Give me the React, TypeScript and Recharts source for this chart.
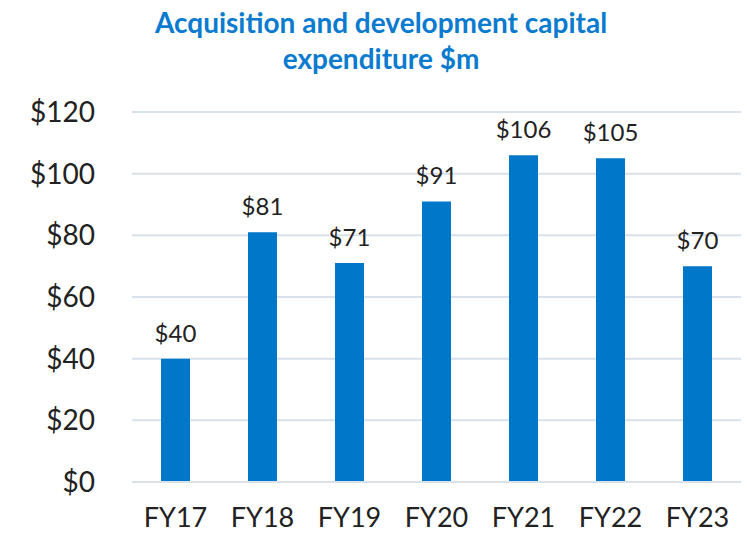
import React from 'react';
import { BarChart, Bar, XAxis, YAxis, CartesianGrid, LabelList } from 'recharts';

const years = ['FY17', 'FY18', 'FY19', 'FY20', 'FY21', 'FY22', 'FY23'];
const capex = [40, 81, 71, 91, 106, 105, 70];
const yTicks = [0, 20, 40, 60, 80, 100, 120];

const data = years.map((year, i) => ({ year, capex: capex[i] }));

const FONT = 'Lato, "Open Sans", sans-serif';

export default function App() {
  return (
    <div style={{ position: 'absolute', left: 0, top: 0, width: 747, height: 534, background: '#fff' }}>
      <svg width={747} height={100} style={{ position: 'absolute', left: 0, top: 0 }}>
        <text x={381} y={33} textAnchor="middle" fontFamily={FONT} fontWeight={700} fontSize={28} fill="#0A7BCF">
          Acquisition and development capital
        </text>
        <text x={381} y={69} textAnchor="middle" fontFamily={FONT} fontWeight={700} fontSize={28} fill="#0A7BCF">
          expenditure $m
        </text>
      </svg>
      <BarChart
        width={747}
        height={534}
        data={data}
        margin={{ top: 112, right: 6, bottom: 0, left: 0 }}
        style={{ position: 'absolute', left: 0, top: 0 }}
      >
        <CartesianGrid vertical={false} stroke="#D9E1EA" strokeWidth={2} />
        <XAxis
          dataKey="year"
          height={52}
          tickLine={false}
          axisLine={{ stroke: '#D9E1EA', strokeWidth: 2 }}
          tickSize={0}
          tickMargin={26}
          tick={{ fill: '#222', fontSize: 27, fontFamily: FONT }}
        />
        <YAxis
          width={132}
          domain={[0, 120]}
          ticks={yTicks}
          tickLine={false}
          axisLine={false}
          tickSize={0}
          tickMargin={37}
          tickFormatter={(v) => `$${v}`}
          tick={{ fill: '#222', fontSize: 28, fontFamily: FONT }}
        />
        <Bar dataKey="capex" fill="#0077C8" barSize={29} isAnimationActive={false}>
          <LabelList
            dataKey="capex"
            position="top"
            offset={17}
            formatter={(v: number) => `$${v}`}
            style={{ fill: '#222', fontSize: 24, fontFamily: FONT }}
          />
        </Bar>
      </BarChart>
    </div>
  );
}
